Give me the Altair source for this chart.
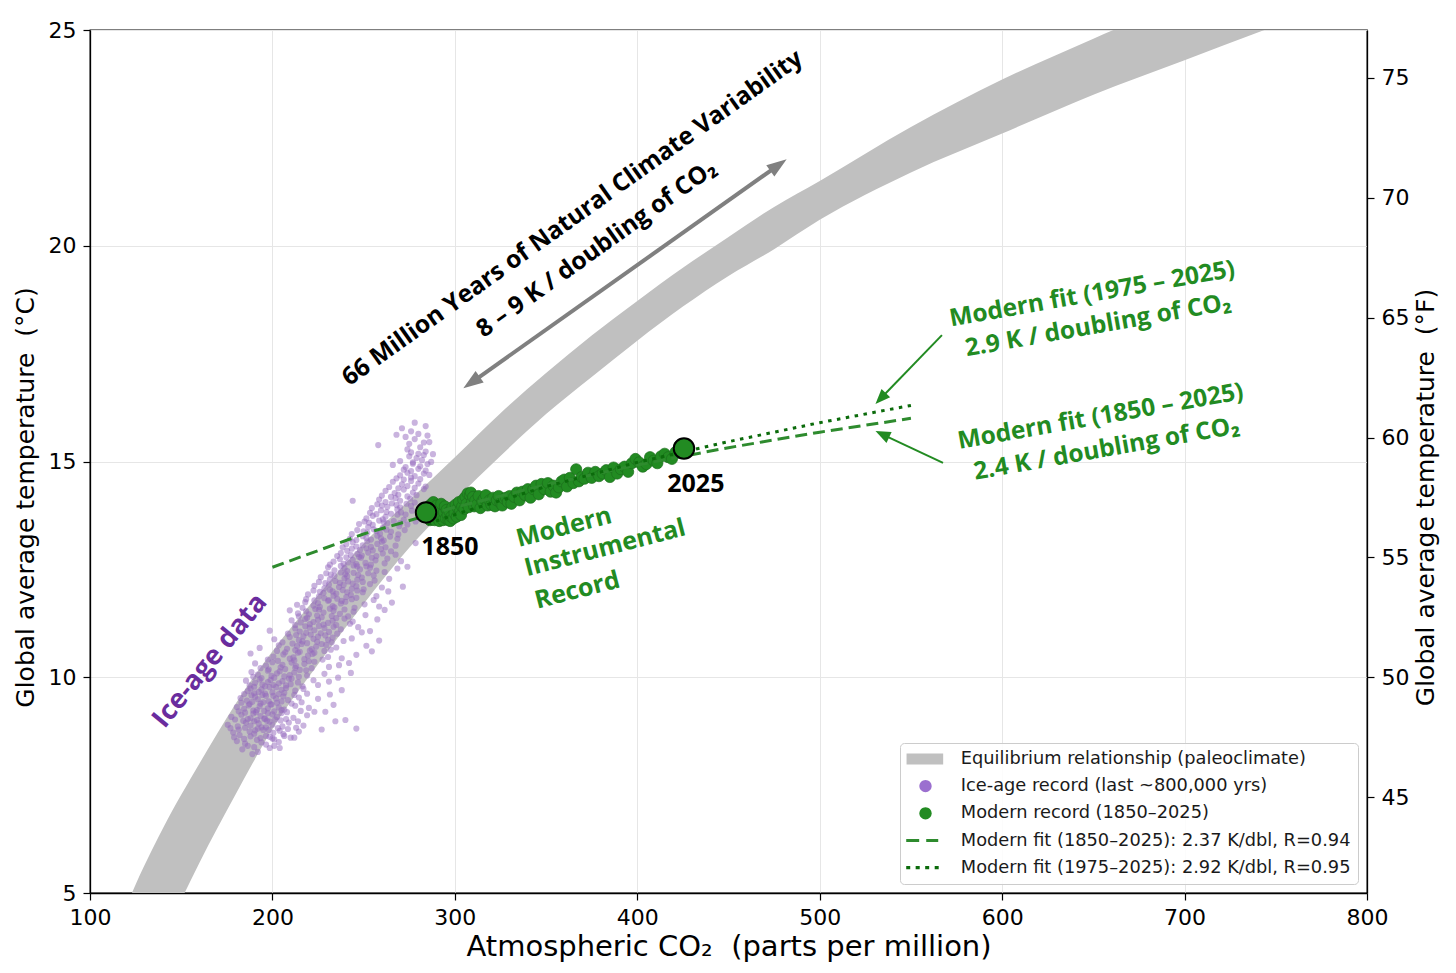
import pandas as pd
import altair as alt

# equilibrium (paleoclimate) band: lower and upper edge
band_co2 = [110, 120, 140, 160, 180, 200, 225, 250, 275, 300, 325, 350, 375, 400, 425, 450, 475, 500,
            550, 600, 650, 700, 750, 800]
band_lo = [0.5, 1.7, 3.9, 5.7, 7.3, 8.8, 10.3, 11.7, 13.0, 14.1, 15.13, 16.1, 16.96, 17.8, 18.59, 19.3, 19.92, 20.6,
           21.7, 22.6, 23.5, 24.3, 25.1, 25.9]
band_hi = [3.6, 4.7, 6.5, 8.0, 9.4, 10.6, 11.9, 13.1, 14.1, 15.1, 16.12, 17.05, 17.92, 18.72, 19.49, 20.2, 20.9, 21.5,
           22.75, 23.85, 24.8, 25.7, 26.6, 27.4]

# ice-age record (last ~800,000 yrs), rows of ~0.1 C
ice_co2 = [
    183.5, 189, 192, 198.5, 201,
    186.5, 190, 196.5, 204,
    180.5, 185, 191.5, 194, 200, 203.5, 210,
    179, 184.5, 188, 193.5, 198.5, 201, 206.5, 212,
    178.5, 182, 187.5, 190, 195, 196.5, 200.5, 204, 206, 214.5,
    177, 181.5, 185, 190.5, 192, 196.5, 198, 203, 208.5, 213, 227,
    175.5, 181, 185.5, 188, 192.5, 194, 198.5, 200, 205.5, 209, 217, 234.5, 246,
    179.5, 184, 186.5, 190, 191.5, 195.5, 197, 201.5, 204.5, 207.5, 214, 240,
    177.5, 183, 188, 189.5, 193.5, 196, 200, 202.5, 205, 211.5, 219, 229,
    181.5, 185, 189.5, 191, 195.5, 197.5, 201, 205, 208, 215.5, 223,
    180.5, 184.5, 187, 191.5, 193, 197.5, 199, 203.5, 206.5, 212.5, 220, 233.5,
    183, 187.5, 189, 193.5, 195, 199.5, 202.5, 205, 210.5, 216,
    182.5, 186, 190.5, 192, 196.5, 198, 202, 206, 208.5, 214.5, 225,
    184.5, 188.5, 190, 194.5, 196, 200.5, 203.5, 206.5, 212, 219, 231.5,
    186.5, 188, 192.5, 194, 198.5, 200, 205, 207.5, 212.5, 217, 238,
    187.5, 190, 194.5, 196, 200.5, 202, 207.5, 210, 216.5, 225,
    185.5, 190.5, 193, 197.5, 199, 203.5, 205.5, 210.5, 214, 222.5, 231,
    189.5, 194, 199.5, 201, 206.5, 209, 214.5, 219, 236,
    188.5, 192, 197.5, 202.5, 204, 209.5, 212, 218.5, 228.5, 243,
    193.5, 198, 204.5, 207, 212.5, 215, 221.5, 231,
    190.5, 196.5, 200, 205.5, 210.5, 213, 217.5, 223, 236.5, 242,
    197.5, 203, 209.5, 212, 217.5, 220, 227.5, 238,
    188, 200.5, 206, 211.5, 214, 219.5, 222, 230.5, 246,
    202.5, 207, 212.5, 215, 220.5, 223, 228.5, 232, 254.5,
    193, 203.5, 208, 213.5, 216, 221.5, 224, 229.5, 235, 251.5,
    205.5, 211, 216.5, 219, 224.5, 227, 232.5, 239,
    201, 209.5, 214.5, 217, 222.5, 225, 230.5, 233, 243.5, 258.5,
    208.5, 213, 218.5, 221, 226.5, 229, 235.5, 249,
    198.5, 212.5, 215, 220.5, 223, 228.5, 231, 237.5, 247, 253.5,
    212.5, 218, 220.5, 225.5, 228, 233.5, 235, 242.5,
    210.5, 215.5, 218, 222.5, 225, 230.5, 233, 239.5, 244, 257.5,
    214.5, 219, 224.5, 227, 232.5, 235, 241.5, 251,
    209.5, 214, 218.5, 220, 225.5, 228, 233.5, 237, 244.5, 261.5,
    216.5, 223.5, 226, 231.5, 234, 239.5, 245, 258.5,
    213.5, 218, 222.5, 225, 230.5, 233, 237.5, 240, 250.5, 265.5,
    218.5, 223, 228.5, 231, 235.5, 238, 243.5, 246, 255.5,
    219.5, 225.5, 228, 233.5, 235, 240.5, 243, 249.5, 257,
    222.5, 226, 231.5, 233, 238.5, 241, 246.5, 250, 263.5,
    223, 228.5, 231, 236.5, 239, 243.5, 246, 253.5, 260, 271.5,
    225.5, 229, 234.5, 237, 241.5, 244, 249.5, 256,
    226.5, 231.5, 234, 239.5, 241, 246.5, 249, 255.5, 264,
    229.5, 232, 237.5, 240, 244.5, 247, 252.5, 261.5,
    230.5, 234, 239.5, 241, 246.5, 248, 253.5, 257, 268.5, 274,
    231.5, 237.5, 239, 244.5, 246, 251.5, 254, 261.5,
    233.5, 237, 241.5, 244, 248.5, 251, 256.5, 263, 270.5,
    235.5, 240.5, 243, 247.5, 249, 254.5, 257, 267.5,
    237.5, 241, 246.5, 248, 252.5, 255, 260.5, 265,
    238.5, 243.5, 246, 251.5, 254, 259.5, 262,
    240.5, 244, 249.5, 252, 257.5, 260, 267.5, 278.5,
    242.5, 246, 251.5, 254, 259.5, 261, 268.5,
    243.5, 249.5, 252, 257.5, 259, 264.5, 269,
    246.5, 250, 255.5, 257, 262.5, 265, 272.5,
    247.5, 252.5, 255, 260.5, 263, 269.5, 274,
    250.5, 253, 258.5, 261, 266.5, 270, 278.5,
    251.5, 255, 260.5, 262, 268.5, 272, 280.5,
    253.5, 257, 262.5, 265, 270.5, 273,
    254.5, 259.5, 263, 268.5, 270, 276.5,
    257.5, 260, 265.5, 268, 273.5, 276,
    244, 258.5, 262, 267.5, 270, 275.5, 278,
    260, 265, 269, 274, 279,
    262, 267, 272, 277, 283,
    264, 269, 274, 278, 284,
    266, 271, 276, 280,
    268, 272, 276, 281,
    270, 274, 278, 283, 286,
    272, 276, 280, 284,
    266, 273, 277, 281, 285,
    270, 277, 282, 287,
    275, 279, 283, 288,
    276, 280, 284,
    258, 274, 281, 286,
    275, 283,
    273, 278, 285,
    268, 280,
    271, 276,
    278, 284,
]
ice_temp = [
    8.33, 8.22, 8.27, 8.36, 8.41,
    8.41, 8.38, 8.44, 8.36,
    8.52, 8.46, 8.55, 8.49, 8.58, 8.50, 8.60,
    8.61, 8.57, 8.63, 8.59, 8.62, 8.56, 8.64, 8.60,
    8.72, 8.66, 8.74, 8.69, 8.78, 8.64, 8.71, 8.76, 8.68, 8.74,
    8.82, 8.79, 8.83, 8.77, 8.81, 8.84, 8.78, 8.82, 8.80, 8.83, 8.79,
    8.90, 8.86, 8.95, 8.88, 8.93, 8.84, 8.97, 8.90, 8.86, 8.95, 8.88, 8.98, 8.81,
    9.02, 8.99, 9.03, 8.98, 9.01, 9.04, 8.99, 9.02, 9.00, 9.03, 8.98, 9.01,
    9.08, 9.13, 9.05, 9.16, 9.10, 9.04, 9.14, 9.08, 9.17, 9.06, 9.12, 9.20,
    9.21, 9.18, 9.23, 9.19, 9.22, 9.17, 9.21, 9.24, 9.19, 9.22, 9.20,
    9.31, 9.27, 9.35, 9.24, 9.33, 9.28, 9.37, 9.30, 9.25, 9.34, 9.29, 9.36,
    9.41, 9.38, 9.43, 9.39, 9.42, 9.37, 9.41, 9.44, 9.39, 9.42,
    9.52, 9.46, 9.55, 9.49, 9.57, 9.44, 9.51, 9.56, 9.47, 9.53, 9.50,
    9.61, 9.58, 9.63, 9.59, 9.62, 9.57, 9.61, 9.64, 9.59, 9.62, 9.60,
    9.68, 9.74, 9.66, 9.72, 9.77, 9.65, 9.71, 9.75, 9.69, 9.73, 9.70,
    9.81, 9.78, 9.83, 9.79, 9.82, 9.77, 9.81, 9.84, 9.79, 9.82,
    9.92, 9.87, 9.95, 9.89, 9.94, 9.86, 9.91, 9.97, 9.88, 9.93, 9.90,
    10.01, 9.98, 10.03, 9.99, 10.02, 9.97, 10.01, 10.04, 9.99,
    10.12, 10.06, 10.15, 10.09, 10.14, 10.05, 10.11, 10.16, 10.08, 10.10,
    10.21, 10.18, 10.23, 10.19, 10.22, 10.17, 10.21, 10.24,
    10.32, 10.27, 10.35, 10.29, 10.34, 10.26, 10.31, 10.36, 10.28, 10.33,
    10.41, 10.38, 10.43, 10.39, 10.42, 10.37, 10.41, 10.44,
    10.55, 10.48, 10.53, 10.46, 10.57, 10.50, 10.54, 10.47, 10.52,
    10.61, 10.58, 10.63, 10.59, 10.62, 10.57, 10.61, 10.64, 10.60,
    10.68, 10.74, 10.66, 10.72, 10.77, 10.65, 10.71, 10.75, 10.69, 10.73,
    10.81, 10.78, 10.83, 10.79, 10.82, 10.77, 10.81, 10.84,
    10.88, 10.93, 10.86, 10.95, 10.89, 10.94, 10.87, 10.92, 10.90, 10.85,
    11.01, 10.98, 11.03, 10.99, 11.02, 10.97, 11.01, 11.04,
    11.08, 11.13, 11.06, 11.15, 11.09, 11.14, 11.05, 11.11, 11.16, 11.07,
    11.21, 11.18, 11.23, 11.19, 11.22, 11.17, 11.21, 11.24,
    11.32, 11.27, 11.35, 11.28, 11.33, 11.26, 11.31, 11.36, 11.29, 11.34,
    11.41, 11.38, 11.43, 11.39, 11.42, 11.37, 11.41, 11.44,
    11.55, 11.48, 11.53, 11.46, 11.57, 11.50, 11.54, 11.47, 11.52, 11.56,
    11.61, 11.58, 11.63, 11.59, 11.62, 11.57, 11.61, 11.64,
    11.68, 11.74, 11.66, 11.72, 11.77, 11.65, 11.71, 11.75, 11.69, 11.73,
    11.81, 11.78, 11.83, 11.79, 11.82, 11.77, 11.81, 11.84, 11.79,
    11.92, 11.87, 11.95, 11.89, 11.94, 11.86, 11.91, 11.97, 11.88,
    12.01, 11.98, 12.03, 11.99, 12.02, 11.97, 12.01, 12.04, 11.99,
    12.12, 12.06, 12.15, 12.09, 12.14, 12.05, 12.11, 12.16, 12.08, 12.10,
    12.21, 12.18, 12.23, 12.19, 12.22, 12.17, 12.21, 12.24,
    12.32, 12.27, 12.35, 12.29, 12.34, 12.26, 12.31, 12.36, 12.28,
    12.41, 12.38, 12.43, 12.39, 12.42, 12.37, 12.41, 12.44,
    12.55, 12.48, 12.53, 12.46, 12.57, 12.50, 12.54, 12.47, 12.52, 12.56,
    12.61, 12.58, 12.63, 12.59, 12.62, 12.57, 12.61, 12.64,
    12.68, 12.74, 12.66, 12.72, 12.77, 12.65, 12.71, 12.75, 12.69,
    12.81, 12.78, 12.83, 12.79, 12.82, 12.77, 12.81, 12.84,
    12.88, 12.93, 12.86, 12.95, 12.89, 12.94, 12.87, 12.92,
    13.01, 12.98, 13.03, 12.99, 13.02, 12.97, 13.01,
    13.08, 13.13, 13.06, 13.15, 13.09, 13.14, 13.05, 13.11,
    13.21, 13.18, 13.23, 13.19, 13.22, 13.17, 13.21,
    13.32, 13.27, 13.35, 13.28, 13.33, 13.26, 13.31,
    13.41, 13.38, 13.43, 13.39, 13.42, 13.37, 13.41,
    13.55, 13.48, 13.53, 13.46, 13.57, 13.50, 13.54,
    13.61, 13.58, 13.63, 13.59, 13.62, 13.57, 13.61,
    13.68, 13.74, 13.66, 13.72, 13.77, 13.65, 13.71,
    13.81, 13.78, 13.83, 13.79, 13.82, 13.77,
    13.92, 13.87, 13.95, 13.89, 13.94, 13.86,
    14.01, 13.98, 14.03, 13.99, 14.02, 13.97,
    14.09, 14.12, 14.06, 14.15, 14.09, 14.14, 14.05,
    14.21, 14.18, 14.23, 14.19, 14.22,
    14.32, 14.27, 14.35, 14.28, 14.36,
    14.41, 14.38, 14.43, 14.39, 14.42,
    14.53, 14.47, 14.55, 14.49,
    14.61, 14.58, 14.63, 14.59,
    14.68, 14.74, 14.66, 14.72, 14.69,
    14.81, 14.78, 14.83, 14.79,
    14.92, 14.87, 14.95, 14.89, 14.94,
    15.01, 14.98, 15.03, 14.99,
    15.12, 15.08, 15.15, 15.17,
    15.21, 15.18, 15.23,
    15.38, 15.28, 15.33, 15.45,
    15.41, 15.44,
    15.57, 15.52, 15.60,
    15.62, 15.64,
    15.77, 15.70,
    15.90, 15.82,
]

# modern instrumental record 1850-2025
modern_co2 = [
    285.2, 285.5, 285.8, 286.1, 286.4, 286.7, 287.0, 287.4, 287.8, 288.2, 288.6, 289.0, 289.5,
    290.0, 290.5, 291.0, 291.5, 292.0, 292.5, 293.0, 293.5, 294.0, 294.5, 295.0, 295.5, 296.0,
    296.5, 297.0, 297.5, 298.0, 298.6, 299.2, 299.8, 300.4, 301.0, 301.6, 302.2, 302.8, 303.4,
    304.0, 304.6, 305.2, 305.8, 306.4, 307.0, 307.6, 308.2, 308.8, 309.4, 310.0, 310.6, 311.2,
    312, 313, 314, 315, 316, 317, 318, 319, 320, 321, 322, 323, 324, 325, 326, 327, 328, 329, 330, 331,
    332.5, 334, 335.5, 337, 338.5, 340, 341.5, 343, 344.5, 346, 347.5, 349, 351, 352.5, 354, 355.5,
    357, 358.5, 360, 361.5, 363, 365, 366.5, 368, 369.5,
    371, 373, 375, 377, 379, 381, 383, 385, 387, 389, 391, 393, 395, 397, 399, 401, 403, 405,
    407, 409, 411, 413, 415, 417, 419, 421, 423,
]
modern_temp = [
    13.82, 13.95, 13.70, 13.88, 13.64, 14.00, 13.80, 13.66, 13.92, 14.06, 13.72, 13.64, 13.88,
    13.98, 13.74, 13.66, 13.62, 13.90, 14.02, 13.72, 13.64, 13.82, 13.96, 13.68, 13.88, 13.76,
    13.64, 13.84, 13.62, 13.72, 13.94, 13.68, 13.80, 14.00, 13.72, 13.92, 14.06, 13.86, 13.76,
    13.96, 14.12, 13.90, 14.18, 14.02, 14.26, 13.94, 14.22, 14.28, 14.06, 14.18, 13.96, 14.10,
    14.00, 14.20, 13.92, 14.08, 14.14, 14.22, 13.98, 14.10, 14.00, 14.16, 13.96, 14.10, 14.20, 14.04, 13.98, 14.14, 14.16, 14.06, 14.20, 14.02,
    14.18, 14.28, 14.10, 14.30, 14.22, 14.36, 14.16, 14.36, 14.44, 14.24, 14.48, 14.36, 14.50, 14.30, 14.44, 14.28,
    14.40, 14.54, 14.58, 14.42, 14.62, 14.50, 14.82, 14.54, 14.64,
    14.60, 14.74, 14.62, 14.76, 14.66, 14.72, 14.80, 14.64, 14.86, 14.72, 14.82, 14.88, 14.76, 14.96, 15.06, 14.98, 14.88, 14.94,
    15.10, 15.02, 14.96, 15.12, 15.18, 15.10, 15.06, 15.22, 15.36,
]

# highlighted end points
end_co2 = [284.2, 425.6]
end_temp = [13.82, 15.30]

# fitted lines
fit_all_co2 = [200, 250, 300, 350, 400, 450, 500, 550]
fit_all_temp = [12.55, 13.32, 13.94, 14.46, 14.92, 15.32, 15.68, 16.00]
fit_recent_co2 = [285, 300, 350, 400, 450, 500, 550]
fit_recent_temp = [13.55, 13.77, 14.42, 14.98, 15.46, 15.90, 16.30]

x_ticks = [100, 200, 300, 400, 500, 600, 700, 800]
y_ticks = [5, 10, 15, 20, 25]
f_ticks = [45, 50, 55, 60, 65, 70, 75]
f_domain = [41, 77]

legend_labels = [
    "Equilibrium relationship (paleoclimate)",
    "Ice-age record (last ~800,000 yrs)",
    "Modern record (1850–2025)",
    "Modern fit (1850–2025): 2.37 K/dbl, R=0.94",
    "Modern fit (1975–2025): 2.92 K/dbl, R=0.95",
]
legend_colors = ["#c0c0c0", "#9b6fcf", "#228b22", "#2e8b2e", "#0b6b0b"]
legend_shapes = [
    "M-1.17,-0.69H3.41V0.69H-1.17Z",
    "M0.43,0A0.77,0.77 0 1,0 1.97,0A0.77,0.77 0 1,0 0.43,0Z",
    "M0.43,0A0.77,0.77 0 1,0 1.97,0A0.77,0.77 0 1,0 0.43,0Z",
    "M-1.21,-0.19H0.41V0.19H-1.21Z M1.29,-0.19H2.79V0.19H1.29Z",
    "M-1.21,-0.2H-0.71V0.2H-1.21Z M-0.03,-0.2H0.48V0.2H-0.03Z M1.16,-0.2H1.66V0.2H1.16Z M2.35,-0.2H2.85V0.2H2.35Z",
]

GREEN = "#228b22"
FONT = "Open Sans"

x_axis = alt.Axis(title="Atmospheric CO₂\u00a0\u00a0(parts per million)", values=x_ticks, grid=True)
y_axis = alt.Axis(title="Global average temperature\u00a0\u00a0(°C)", values=y_ticks, grid=True, titleY=467)
X_SCALE = alt.Scale(domain=[100, 800], nice=False, zero=False)
Y_SCALE = alt.Scale(domain=[5, 25], nice=False, zero=False)


def xe(field):
    return alt.X(f"{field}:Q", scale=X_SCALE, axis=x_axis)


def ye(field):
    return alt.Y(f"{field}:Q", scale=Y_SCALE, axis=y_axis)


band = alt.Chart(pd.DataFrame({"co2": band_co2, "lo": band_lo, "hi": band_hi})).mark_area(
    color="#c0c0c0", clip=True, interpolate="monotone"
).encode(x=xe("co2"), y=ye("lo"), y2="hi:Q")

ice = alt.Chart(pd.DataFrame({"co2": ice_co2, "temp": ice_temp})).mark_circle(
    color="#9467bd", opacity=0.5, size=38, clip=True
).encode(x=xe("co2"), y=ye("temp"))

modern = alt.Chart(pd.DataFrame({"co2": modern_co2, "temp": modern_temp})).mark_circle(
    color=GREEN, opacity=1, size=125, stroke="#1d6f1d", strokeWidth=0.7
).encode(x=xe("co2"), y=ye("temp"))

fit_all = alt.Chart(pd.DataFrame({"co2": fit_all_co2, "temp": fit_all_temp})).mark_line(
    color="#2e8b2e", strokeWidth=3, strokeDash=[12, 6]
).encode(x=xe("co2"), y=ye("temp"))

fit_recent = alt.Chart(pd.DataFrame({"co2": fit_recent_co2, "temp": fit_recent_temp})).mark_line(
    color="#0b6b0b", strokeWidth=3, strokeDash=[3.5, 5.5]
).encode(x=xe("co2"), y=ye("temp"))

ends = alt.Chart(pd.DataFrame({"co2": end_co2, "temp": end_temp})).mark_circle(
    color=GREEN, opacity=1, size=420, stroke="black", strokeWidth=2
).encode(x=xe("co2"), y=ye("temp"))

# arrows
gray_line = alt.Chart(pd.DataFrame({"co2": [309.1], "temp": [16.83], "co2b": [477.4], "tempb": [21.87]})).mark_rule(
    color="#808080", strokeWidth=4
).encode(x=xe("co2"), y=ye("temp"), x2="co2b:Q", y2="tempb:Q")
gray_heads = alt.Chart(pd.DataFrame({"co2": [309.1, 477.4], "temp": [16.83, 21.87], "ang": [234.7, 54.7]})).mark_point(
    shape="M0,-1L0.7,1L-0.7,1Z", filled=True, opacity=1, color="#808080", size=400, strokeWidth=0
).encode(x=xe("co2"), y=ye("temp"), angle=alt.Angle("ang:Q", scale=None))

green_lines = alt.Chart(pd.DataFrame({
    "co2": [567.0, 567.6], "temp": [17.93, 14.97], "co2b": [533.4, 534.3], "tempb": [16.46, 15.63]
})).mark_rule(color=GREEN, strokeWidth=2).encode(x=xe("co2"), y=ye("temp"), x2="co2b:Q", y2="tempb:Q")
green_heads = alt.Chart(pd.DataFrame({"co2": [533.4, 534.3], "temp": [16.46, 15.63], "ang": [223.9, 295.3]})).mark_point(
    shape="M0,-1L0.8,1L-0.8,1Z", filled=True, opacity=1, color=GREEN, size=225, strokeWidth=0
).encode(x=xe("co2"), y=ye("temp"), angle=alt.Angle("ang:Q", scale=None))


def label(co2, temp, texts, **kw):
    df = pd.DataFrame({"co2": co2, "temp": temp, "text": texts})
    return alt.Chart(df).mark_text(font=FONT, fontWeight="bold", **kw).encode(
        x=xe("co2"), y=ye("temp"), text="text:N"
    )


natural = label([364.6, 377.8], [20.63, 19.92],
                ["66 Million Years of Natural Climate Variability", "8 – 9 K / doubling of CO₂"],
                angle=324.5, fontSize=24.5, color="black")
ice_label = label([165.8], [10.38], ["Ice-age data"], angle=309.3, fontSize=27, color="#6a2c9e")
years = label([297.3, 432.1], [13.02, 14.49], ["1850", "2025"], fontSize=25, color="black")
instrumental = label([359.8, 382.3, 367.1], [13.48, 13.0, 12.02], ["Modern", "Instrumental", "Record"],
                     angle=345.5, fontSize=25, color=GREEN)
fits = label([649.4, 652.7, 654.0, 657.3], [18.87, 18.14, 16.03, 15.28],
             ["Modern fit (1975 – 2025)", "2.9 K / doubling of CO₂",
              "Modern fit (1850 – 2025)", "2.4 K / doubling of CO₂"],
             angle=350, fontSize=24.5, color=GREEN)

# legend: placeholder points outside the plot, only their legend shows
legend = alt.Chart(pd.DataFrame({"co2": [50] * 5, "temp": [0] * 5, "label": legend_labels})).mark_point(
    filled=True, opacity=1, clip=True, strokeWidth=0
).encode(
    x=xe("co2"),
    y=ye("temp"),
    color=alt.Color("label:N", scale=alt.Scale(domain=legend_labels, range=legend_colors), legend=alt.Legend(
        title=None, orient="bottom-right", offset=9, padding=7, rowPadding=8.2,
        symbolSize=256, symbolStrokeWidth=0, symbolOpacity=1, labelOffset=36,
        labelFont="DejaVu Sans", labelFontSize=17.8, labelColor="#1a1a1a", labelLimit=500,
        fillColor="rgba(255,255,255,0.85)", strokeColor="#cccccc", cornerRadius=4,
    )),
    shape=alt.Shape("label:N", scale=alt.Scale(domain=legend_labels, range=legend_shapes)),
)

celsius = alt.layer(
    band, ice, modern, fit_all, fit_recent, ends,
    gray_line, gray_heads, green_lines, green_heads,
    natural, ice_label, years, instrumental, fits, legend,
)

fahrenheit = alt.Chart(pd.DataFrame({"f": f_domain})).mark_point(opacity=0).encode(
    x=alt.value(0),
    y=alt.Y("f:Q", scale=alt.Scale(domain=f_domain, nice=False, zero=False),
            axis=alt.Axis(orient="right", values=f_ticks, grid=False, titleAngle=270,
                          titleX=58, titleY=467, titleAlign="center", titleBaseline="middle",
                          title="Global average temperature\u00a0\u00a0(°F)")),
)

chart = alt.layer(celsius, fahrenheit).resolve_scale(y="independent").properties(
    width=1277, height=863, padding={"left": 5, "top": 11, "right": 5, "bottom": 2}
).configure_view(
    stroke="black", strokeWidth=1.3
).configure_axis(
    labelFont="DejaVu Sans", labelFontSize=22, labelColor="black", labelFlush=False,
    titleFont="DejaVu Sans", titleFontWeight="normal", titleColor="black",
    domainColor="black", domainWidth=1.3, tickColor="black", tickSize=7, tickWidth=1.2,
    labelPadding=7, gridColor="#e6e6e6", gridWidth=1,
).configure_axisX(
    titleFontSize=29, titlePadding=4
).configure_axisY(
    titleFontSize=25, titlePadding=10
)

chart.save("out.html", embed_options={"renderer": "svg", "actions": False})
